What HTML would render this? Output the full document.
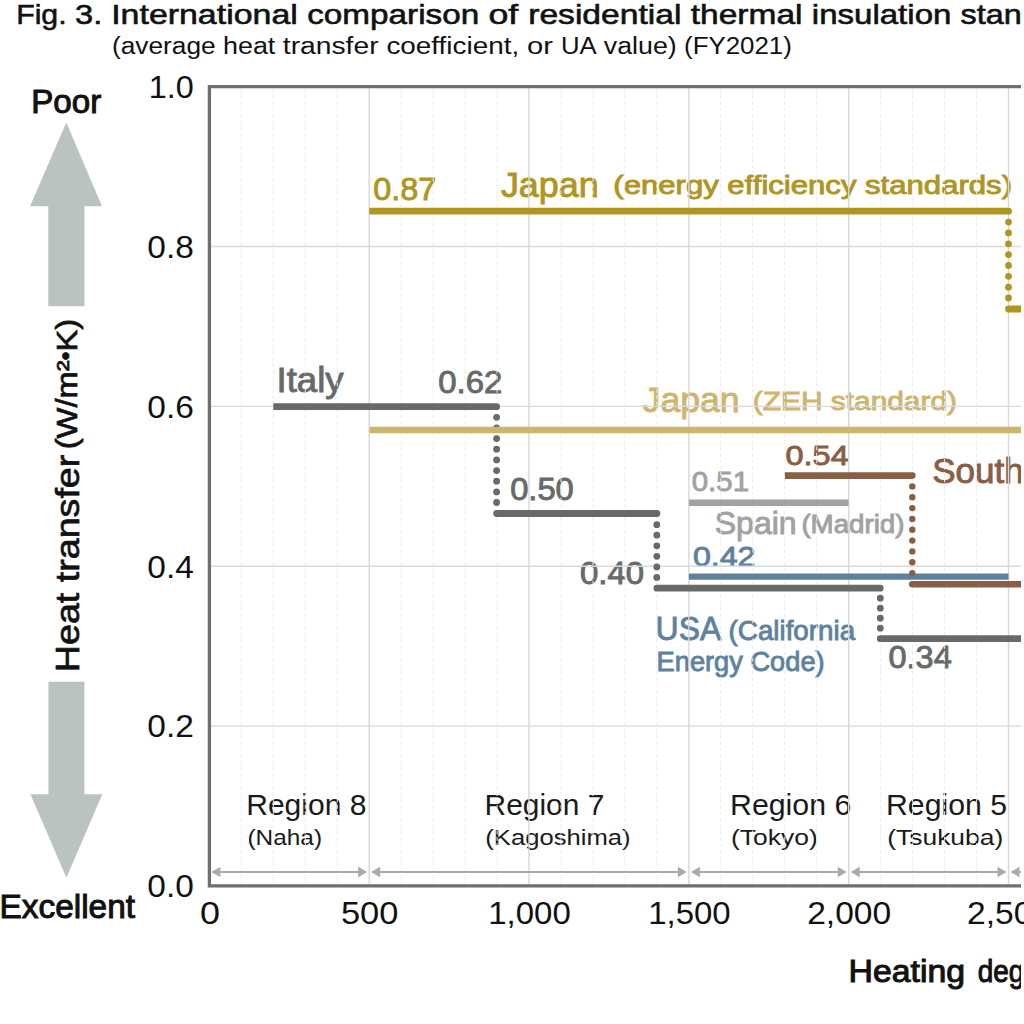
<!DOCTYPE html><html><head><meta charset="utf-8"><style>html,body{margin:0;padding:0;background:#fff;width:1024px;height:1024px;overflow:hidden}svg{display:block}text{font-family:"Liberation Sans",sans-serif}</style></head><body>
<svg width="1024" height="1024" viewBox="0 0 1024 1024">
<defs><clipPath id="c"><rect x="0" y="0" width="1021" height="1024"/></clipPath></defs>
<text x="16.2" y="24.2" font-size="28.5" fill="#111" stroke="#111" stroke-width="0.6" textLength="50.4" lengthAdjust="spacingAndGlyphs" >Fig.</text>
<text x="75.0" y="24.2" font-size="28.5" fill="#111" stroke="#111" stroke-width="0.6" textLength="27.2" lengthAdjust="spacingAndGlyphs" >3.</text>
<text x="111.2" y="24.2" font-size="28.5" fill="#111" stroke="#111" stroke-width="0.6" textLength="186.6" lengthAdjust="spacingAndGlyphs" >International</text>
<text x="307.2" y="24.2" font-size="28.5" fill="#111" stroke="#111" stroke-width="0.6" textLength="172.0" lengthAdjust="spacingAndGlyphs" >comparison</text>
<text x="488.5" y="24.2" font-size="28.5" fill="#111" stroke="#111" stroke-width="0.6" textLength="29.8" lengthAdjust="spacingAndGlyphs" >of</text>
<text x="528.2" y="24.2" font-size="28.5" fill="#111" stroke="#111" stroke-width="0.6" textLength="153.2" lengthAdjust="spacingAndGlyphs" >residential</text>
<text x="690.8" y="24.2" font-size="28.5" fill="#111" stroke="#111" stroke-width="0.6" textLength="111.7" lengthAdjust="spacingAndGlyphs" >thermal</text>
<text x="811.8" y="24.2" font-size="28.5" fill="#111" stroke="#111" stroke-width="0.6" textLength="139.6" lengthAdjust="spacingAndGlyphs" >insulation</text>
<text x="960.5" y="24.2" font-size="28.5" fill="#111" stroke="#111" stroke-width="0.6" textLength="61.2" lengthAdjust="spacingAndGlyphs" >stan</text>
<text x="1024.0" y="24.2" font-size="28.5" fill="#111" stroke="#111" stroke-width="0.6" >dards</text>
<text x="112.0" y="54.4" font-size="23.5" fill="#111" textLength="103.7" lengthAdjust="spacingAndGlyphs" >(average</text>
<text x="223.0" y="54.4" font-size="23.5" fill="#111" textLength="52.3" lengthAdjust="spacingAndGlyphs" >heat</text>
<text x="282.8" y="54.4" font-size="23.5" fill="#111" textLength="95.8" lengthAdjust="spacingAndGlyphs" >transfer</text>
<text x="386.4" y="54.4" font-size="23.5" fill="#111" textLength="132.8" lengthAdjust="spacingAndGlyphs" >coefficient,</text>
<text x="526.9" y="54.4" font-size="23.5" fill="#111" textLength="26.0" lengthAdjust="spacingAndGlyphs" >or</text>
<text x="561.0" y="54.4" font-size="23.5" fill="#111" textLength="35.7" lengthAdjust="spacingAndGlyphs" >UA</text>
<text x="603.8" y="54.4" font-size="23.5" fill="#111" textLength="72.9" lengthAdjust="spacingAndGlyphs" >value)</text>
<text x="684.1" y="54.4" font-size="23.5" fill="#111" textLength="107.7" lengthAdjust="spacingAndGlyphs" >(FY2021)</text>
<polygon points="66.3,122.5 102,206.2 84.5,206.2 84.5,306.2 48.3,306.2 48.3,206.2 30,206.2" fill="#bac3bf"/>
<polygon points="66.4,877.8 102.3,794.2 84.4,794.2 84.4,681.7 48.4,681.7 48.4,794.2 30.5,794.2" fill="#bac3bf"/>
<text x="31.2" y="113.0" font-size="33" fill="#111" stroke="#111" stroke-width="1.0" textLength="70.0" lengthAdjust="spacingAndGlyphs" >Poor</text>
<text x="-0.5" y="918.4" font-size="33.5" fill="#111" stroke="#111" stroke-width="1.0" textLength="135.5" lengthAdjust="spacingAndGlyphs" >Excellent</text>
<g transform="translate(79,672.2) rotate(-90)">
<text x="0.0" y="0.0" font-size="33" fill="#111" stroke="#111" stroke-width="0.7" textLength="217.5" lengthAdjust="spacingAndGlyphs" >Heat transfer</text>
</g>
<g transform="translate(77.3,318.8) rotate(-90)">
<text x="0.0" y="0.0" font-size="29.5" fill="#111" stroke="#111" stroke-width="0.7" text-anchor="end" textLength="130.5" lengthAdjust="spacingAndGlyphs" >(W/m²<tspan font-size="23" dy="-3">•</tspan><tspan dy="3">K)</tspan></text>
</g>
<g clip-path="url(#c)">
<text x="246.2" y="815.4" font-size="29.5" fill="#1a1a1a" textLength="120.3" lengthAdjust="spacingAndGlyphs" >Region 8</text>
<text x="247.5" y="844.5" font-size="22.5" fill="#1a1a1a" textLength="74.5" lengthAdjust="spacingAndGlyphs" >(Naha)</text>
<text x="484.6" y="815.4" font-size="29.5" fill="#1a1a1a" textLength="119.7" lengthAdjust="spacingAndGlyphs" >Region 7</text>
<text x="485.3" y="844.5" font-size="22.5" fill="#1a1a1a" textLength="145.3" lengthAdjust="spacingAndGlyphs" >(Kagoshima)</text>
<text x="730.0" y="815.4" font-size="29.5" fill="#1a1a1a" textLength="121.3" lengthAdjust="spacingAndGlyphs" >Region 6</text>
<text x="731.0" y="844.5" font-size="22.5" fill="#1a1a1a" textLength="86.7" lengthAdjust="spacingAndGlyphs" >(Tokyo)</text>
<text x="886.0" y="815.4" font-size="29.5" fill="#1a1a1a" textLength="121.0" lengthAdjust="spacingAndGlyphs" >Region 5</text>
<text x="887.3" y="844.5" font-size="22.5" fill="#1a1a1a" textLength="115.9" lengthAdjust="spacingAndGlyphs" >(Tsukuba)</text>
<text x="373.2" y="199.5" font-size="30.5" fill="#b0951f" stroke="#b0951f" stroke-width="0.9" textLength="63.0" lengthAdjust="spacingAndGlyphs" >0.87</text>
<text x="500.9" y="196.8" font-size="34.5" fill="#b0951f" stroke="#b0951f" stroke-width="0.9" textLength="97.8" lengthAdjust="spacingAndGlyphs" >Japan</text>
<text x="613.3" y="194.4" font-size="25.5" fill="#b0951f" stroke="#b0951f" stroke-width="0.9" textLength="398.7" lengthAdjust="spacingAndGlyphs" >(energy efficiency standards)</text>
<text x="276.5" y="391.7" font-size="35" fill="#676a68" stroke="#676a68" stroke-width="0.9" textLength="67.1" lengthAdjust="spacingAndGlyphs" >Italy</text>
<text x="438.3" y="393.4" font-size="30.5" fill="#676a68" stroke="#676a68" stroke-width="0.9" textLength="64.0" lengthAdjust="spacingAndGlyphs" >0.62</text>
<text x="642.6" y="411.5" font-size="34.5" fill="#cfb56c" stroke="#cfb56c" stroke-width="0.9" textLength="97.0" lengthAdjust="spacingAndGlyphs" >Japan</text>
<text x="752.8" y="410.0" font-size="25.5" fill="#cfb56c" stroke="#cfb56c" stroke-width="0.9" textLength="204.2" lengthAdjust="spacingAndGlyphs" >(ZEH standard)</text>
<text x="510.2" y="499.7" font-size="30.5" fill="#676a68" stroke="#676a68" stroke-width="0.9" textLength="63.6" lengthAdjust="spacingAndGlyphs" >0.50</text>
<text x="785.5" y="465.2" font-size="28.5" fill="#885e45" stroke="#885e45" stroke-width="0.9" textLength="63.2" lengthAdjust="spacingAndGlyphs" >0.54</text>
<text x="932.2" y="482.7" font-size="35" fill="#885e45" stroke="#885e45" stroke-width="0.9" >South Korea</text>
<text x="691.7" y="491.0" font-size="28.5" fill="#a0a3a2" stroke="#a0a3a2" stroke-width="0.9" textLength="57.4" lengthAdjust="spacingAndGlyphs" >0.51</text>
<text x="714.7" y="533.7" font-size="32" fill="#a0a3a2" stroke="#a0a3a2" stroke-width="0.9" textLength="82.0" lengthAdjust="spacingAndGlyphs" >Spain</text>
<text x="801.4" y="532.6" font-size="25" fill="#a0a3a2" stroke="#a0a3a2" stroke-width="0.9" textLength="103.1" lengthAdjust="spacingAndGlyphs" >(Madrid)</text>
<text x="692.9" y="566.0" font-size="28.5" fill="#5e829e" stroke="#5e829e" stroke-width="0.9" textLength="62.6" lengthAdjust="spacingAndGlyphs" >0.42</text>
<text x="580.0" y="583.7" font-size="30.5" fill="#676a68" stroke="#676a68" stroke-width="0.9" textLength="64.1" lengthAdjust="spacingAndGlyphs" >0.40</text>
<text x="655.6" y="640.3" font-size="34" fill="#5e829e" stroke="#5e829e" stroke-width="0.9" textLength="65.6" lengthAdjust="spacingAndGlyphs" >USA</text>
<text x="728.6" y="640.3" font-size="28" fill="#5e829e" stroke="#5e829e" stroke-width="0.9" textLength="126.5" lengthAdjust="spacingAndGlyphs" >(California</text>
<text x="656.6" y="670.8" font-size="28" fill="#5e829e" stroke="#5e829e" stroke-width="0.9" textLength="168.0" lengthAdjust="spacingAndGlyphs" >Energy Code)</text>
<text x="888.5" y="668.4" font-size="30.5" fill="#676a68" stroke="#676a68" stroke-width="0.9" textLength="63.2" lengthAdjust="spacingAndGlyphs" >0.34</text>
<text x="848.6" y="981.7" font-size="31" fill="#111" stroke="#111" stroke-width="1.0" textLength="116.5" lengthAdjust="spacingAndGlyphs" >Heating</text>
<text x="977.8" y="981.7" font-size="31" fill="#111" stroke="#111" stroke-width="1.0" textLength="153.7" lengthAdjust="spacingAndGlyphs" >degree days</text>
<line x1="241.4" y1="88" x2="241.4" y2="884" stroke="#ececec" stroke-width="1" stroke-dasharray="4 2.4"/>
<line x1="273.3" y1="88" x2="273.3" y2="884" stroke="#ececec" stroke-width="1" stroke-dasharray="4 2.4"/>
<line x1="305.3" y1="88" x2="305.3" y2="884" stroke="#ececec" stroke-width="1" stroke-dasharray="4 2.4"/>
<line x1="337.3" y1="88" x2="337.3" y2="884" stroke="#ececec" stroke-width="1" stroke-dasharray="4 2.4"/>
<line x1="369.2" y1="88" x2="369.2" y2="884" stroke="#d8d8d8" stroke-width="1.4"/>
<line x1="401.2" y1="88" x2="401.2" y2="884" stroke="#ececec" stroke-width="1" stroke-dasharray="4 2.4"/>
<line x1="433.2" y1="88" x2="433.2" y2="884" stroke="#ececec" stroke-width="1" stroke-dasharray="4 2.4"/>
<line x1="465.1" y1="88" x2="465.1" y2="884" stroke="#ececec" stroke-width="1" stroke-dasharray="4 2.4"/>
<line x1="497.1" y1="88" x2="497.1" y2="884" stroke="#ececec" stroke-width="1" stroke-dasharray="4 2.4"/>
<line x1="529.0" y1="88" x2="529.0" y2="884" stroke="#d8d8d8" stroke-width="1.4"/>
<line x1="561.0" y1="88" x2="561.0" y2="884" stroke="#ececec" stroke-width="1" stroke-dasharray="4 2.4"/>
<line x1="593.0" y1="88" x2="593.0" y2="884" stroke="#ececec" stroke-width="1" stroke-dasharray="4 2.4"/>
<line x1="624.9" y1="88" x2="624.9" y2="884" stroke="#ececec" stroke-width="1" stroke-dasharray="4 2.4"/>
<line x1="656.9" y1="88" x2="656.9" y2="884" stroke="#ececec" stroke-width="1" stroke-dasharray="4 2.4"/>
<line x1="688.9" y1="88" x2="688.9" y2="884" stroke="#d8d8d8" stroke-width="1.4"/>
<line x1="720.8" y1="88" x2="720.8" y2="884" stroke="#ececec" stroke-width="1" stroke-dasharray="4 2.4"/>
<line x1="752.8" y1="88" x2="752.8" y2="884" stroke="#ececec" stroke-width="1" stroke-dasharray="4 2.4"/>
<line x1="784.8" y1="88" x2="784.8" y2="884" stroke="#ececec" stroke-width="1" stroke-dasharray="4 2.4"/>
<line x1="816.7" y1="88" x2="816.7" y2="884" stroke="#ececec" stroke-width="1" stroke-dasharray="4 2.4"/>
<line x1="848.7" y1="88" x2="848.7" y2="884" stroke="#d8d8d8" stroke-width="1.4"/>
<line x1="880.7" y1="88" x2="880.7" y2="884" stroke="#ececec" stroke-width="1" stroke-dasharray="4 2.4"/>
<line x1="912.6" y1="88" x2="912.6" y2="884" stroke="#ececec" stroke-width="1" stroke-dasharray="4 2.4"/>
<line x1="944.6" y1="88" x2="944.6" y2="884" stroke="#ececec" stroke-width="1" stroke-dasharray="4 2.4"/>
<line x1="976.6" y1="88" x2="976.6" y2="884" stroke="#ececec" stroke-width="1" stroke-dasharray="4 2.4"/>
<line x1="1008.5" y1="88" x2="1008.5" y2="884" stroke="#d8d8d8" stroke-width="1.4"/>
<line x1="211" y1="726.1" x2="1021" y2="726.1" stroke="#dadada" stroke-width="1.4"/>
<line x1="211" y1="566.2" x2="1021" y2="566.2" stroke="#dadada" stroke-width="1.4"/>
<line x1="211" y1="406.4" x2="1021" y2="406.4" stroke="#dadada" stroke-width="1.4"/>
<line x1="211" y1="246.5" x2="1021" y2="246.5" stroke="#dadada" stroke-width="1.4"/>
<line x1="219.4" y1="872" x2="359.2" y2="872" stroke="#a9aaaa" stroke-width="2.2"/>
<polygon points="211.4,872 220.4,866.8 220.4,877.2" fill="#a9aaaa"/>
<polygon points="367.2,872 358.2,866.8 358.2,877.2" fill="#a9aaaa"/>
<line x1="379.2" y1="872" x2="678.9" y2="872" stroke="#a9aaaa" stroke-width="2.2"/>
<polygon points="371.2,872 380.2,866.8 380.2,877.2" fill="#a9aaaa"/>
<polygon points="686.9,872 677.9,866.8 677.9,877.2" fill="#a9aaaa"/>
<line x1="698.9" y1="872" x2="838.7" y2="872" stroke="#a9aaaa" stroke-width="2.2"/>
<polygon points="690.9,872 699.9,866.8 699.9,877.2" fill="#a9aaaa"/>
<polygon points="846.7,872 837.7,866.8 837.7,877.2" fill="#a9aaaa"/>
<line x1="858.7" y1="872" x2="998.5" y2="872" stroke="#a9aaaa" stroke-width="2.2"/>
<polygon points="850.7,872 859.7,866.8 859.7,877.2" fill="#a9aaaa"/>
<polygon points="1006.5,872 997.5,866.8 997.5,877.2" fill="#a9aaaa"/>
<line x1="1018.5" y1="872" x2="1158.3" y2="872" stroke="#a9aaaa" stroke-width="2.2"/>
<polygon points="1010.5,872 1019.5,866.8 1019.5,877.2" fill="#a9aaaa"/>
<polygon points="1166.3,872 1157.3,866.8 1157.3,877.2" fill="#a9aaaa"/>
<path d="M273.30,403.30 L496.60,403.30 A3.40,3.40 0 0 1 496.60,410.10 L273.30,410.10 Z" fill="#676a68"/>
<circle cx="496.6" cy="417.3" r="3.40" fill="#676a68"/>
<circle cx="496.6" cy="427.9" r="3.40" fill="#676a68"/>
<circle cx="496.6" cy="438.6" r="3.40" fill="#676a68"/>
<circle cx="496.6" cy="449.2" r="3.40" fill="#676a68"/>
<circle cx="496.6" cy="459.9" r="3.40" fill="#676a68"/>
<circle cx="496.6" cy="470.6" r="3.40" fill="#676a68"/>
<circle cx="496.6" cy="481.2" r="3.40" fill="#676a68"/>
<circle cx="496.6" cy="491.9" r="3.40" fill="#676a68"/>
<circle cx="496.6" cy="502.5" r="3.40" fill="#676a68"/>
<path d="M496.60,510.10 L656.90,510.10 A3.40,3.40 0 0 1 656.90,516.90 L496.60,516.90 A3.40,3.40 0 0 1 496.60,510.10 Z" fill="#676a68"/>
<circle cx="656.8" cy="524.7" r="3.40" fill="#676a68"/>
<circle cx="656.8" cy="535.2" r="3.40" fill="#676a68"/>
<circle cx="656.8" cy="545.8" r="3.40" fill="#676a68"/>
<circle cx="656.8" cy="556.3" r="3.40" fill="#676a68"/>
<circle cx="656.8" cy="566.9" r="3.40" fill="#676a68"/>
<circle cx="656.8" cy="577.4" r="3.40" fill="#676a68"/>
<path d="M656.90,584.80 L880.20,584.80 A3.40,3.40 0 0 1 880.20,591.60 L656.90,591.60 A3.40,3.40 0 0 1 656.90,584.80 Z" fill="#676a68"/>
<circle cx="880.3" cy="598.2" r="3.40" fill="#676a68"/>
<circle cx="880.3" cy="608.2" r="3.40" fill="#676a68"/>
<circle cx="880.3" cy="618.2" r="3.40" fill="#676a68"/>
<circle cx="880.3" cy="628.2" r="3.40" fill="#676a68"/>
<path d="M880.30,635.30 L1030.00,635.30 L1030.00,642.10 L880.30,642.10 A3.40,3.40 0 0 1 880.30,635.30 Z" fill="#676a68"/>
<path d="M688.90,499.60 L848.50,499.60 L848.50,506.00 L688.90,506.00 Z" fill="#a0a3a2"/>
<path d="M688.90,573.40 L1008.50,573.40 L1008.50,579.80 L688.90,579.80 Z" fill="#5e829e"/>
<path d="M784.90,472.30 L912.30,472.30 A3.30,3.30 0 0 1 912.30,478.90 L784.90,478.90 Z" fill="#885e45"/>
<circle cx="912.3" cy="486.4" r="3.20" fill="#885e45"/>
<circle cx="912.3" cy="497.2" r="3.20" fill="#885e45"/>
<circle cx="912.3" cy="508.1" r="3.20" fill="#885e45"/>
<circle cx="912.3" cy="518.9" r="3.20" fill="#885e45"/>
<circle cx="912.3" cy="529.8" r="3.20" fill="#885e45"/>
<circle cx="912.3" cy="540.6" r="3.20" fill="#885e45"/>
<circle cx="912.3" cy="551.4" r="3.20" fill="#885e45"/>
<circle cx="912.3" cy="562.3" r="3.20" fill="#885e45"/>
<circle cx="912.3" cy="573.1" r="3.20" fill="#885e45"/>
<path d="M912.30,581.00 L1030.00,581.00 L1030.00,587.60 L912.30,587.60 A3.30,3.30 0 0 1 912.30,581.00 Z" fill="#885e45"/>
<path d="M369.20,207.80 L1008.50,207.80 A3.40,3.40 0 0 1 1008.50,214.60 L369.20,214.60 Z" fill="#b0951f"/>
<circle cx="1008.5" cy="222.1" r="3.40" fill="#b0951f"/>
<circle cx="1008.5" cy="232.9" r="3.40" fill="#b0951f"/>
<circle cx="1008.5" cy="243.8" r="3.40" fill="#b0951f"/>
<circle cx="1008.5" cy="254.6" r="3.40" fill="#b0951f"/>
<circle cx="1008.5" cy="265.5" r="3.40" fill="#b0951f"/>
<circle cx="1008.5" cy="276.3" r="3.40" fill="#b0951f"/>
<circle cx="1008.5" cy="287.2" r="3.40" fill="#b0951f"/>
<circle cx="1008.5" cy="298.0" r="3.40" fill="#b0951f"/>
<path d="M1008.50,305.60 L1030.00,305.60 L1030.00,312.40 L1008.50,312.40 A3.40,3.40 0 0 1 1008.50,305.60 Z" fill="#b0951f"/>
<path d="M369.50,426.70 L1030.00,426.70 L1030.00,433.30 L369.50,433.30 Z" fill="#cfb56c"/>
</g>
<path d="M209.4,86.7 L209.4,885.9 L1021,885.9 M207.75,86.7 L1021,86.7" fill="none" stroke="#6f6f6f" stroke-width="3.3"/>
<text x="193.8" y="98.0" font-size="32" fill="#111" text-anchor="end" textLength="45.0" lengthAdjust="spacingAndGlyphs" >1.0</text>
<text x="193.8" y="257.8" font-size="32" fill="#111" text-anchor="end" textLength="46.5" lengthAdjust="spacingAndGlyphs" >0.8</text>
<text x="193.8" y="417.7" font-size="32" fill="#111" text-anchor="end" textLength="46.5" lengthAdjust="spacingAndGlyphs" >0.6</text>
<text x="193.8" y="577.5" font-size="32" fill="#111" text-anchor="end" textLength="46.5" lengthAdjust="spacingAndGlyphs" >0.4</text>
<text x="193.8" y="737.4" font-size="32" fill="#111" text-anchor="end" textLength="46.5" lengthAdjust="spacingAndGlyphs" >0.2</text>
<text x="193.8" y="897.2" font-size="32" fill="#111" text-anchor="end" textLength="46.5" lengthAdjust="spacingAndGlyphs" >0.0</text>
<text x="209.9" y="924.3" font-size="30.5" fill="#111" text-anchor="middle" textLength="20.0" lengthAdjust="spacingAndGlyphs" >0</text>
<text x="369.7" y="924.3" font-size="30.5" fill="#111" text-anchor="middle" textLength="57.5" lengthAdjust="spacingAndGlyphs" >500</text>
<text x="529.5" y="924.3" font-size="30.5" fill="#111" text-anchor="middle" textLength="82.5" lengthAdjust="spacingAndGlyphs" >1,000</text>
<text x="689.4" y="924.3" font-size="30.5" fill="#111" text-anchor="middle" textLength="82.5" lengthAdjust="spacingAndGlyphs" >1,500</text>
<text x="849.2" y="924.3" font-size="30.5" fill="#111" text-anchor="middle" textLength="84.0" lengthAdjust="spacingAndGlyphs" >2,000</text>
<text x="1009.0" y="924.3" font-size="30.5" fill="#111" text-anchor="middle" textLength="84.0" lengthAdjust="spacingAndGlyphs" >2,500</text>
</svg></body></html>
